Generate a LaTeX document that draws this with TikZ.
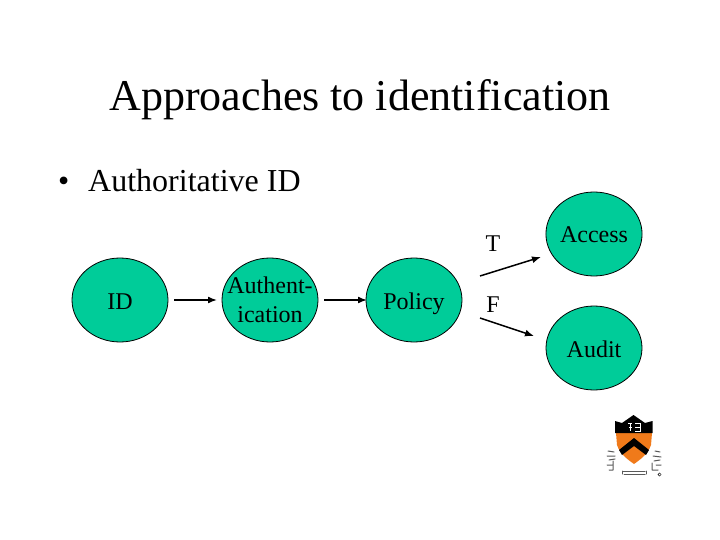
\documentclass[tikz,border=0pt]{standalone}
\usepackage{fontspec}
\setmainfont{Liberation Serif}
\usetikzlibrary{arrows.meta,shapes.geometric}
\definecolor{nodegreen}{HTML}{00CC99}
\definecolor{crestorange}{HTML}{F07A1A}
\tikzset{
	state/.style={ellipse,draw=black,fill=nodegreen,line width=0.8pt,minimum width=96pt,minimum height=84pt,inner sep=0pt,font=\fontsize{24}{29}\selectfont,align=center,text height=23pt,text depth=5pt},
	flow/.style={-{Latex[length=9pt,width=7pt]},line width=1.5pt},
	branch/.style={font=\fontsize{24}{29}\selectfont,inner sep=0pt},
	scroll/.style={line width=1pt,black!65,line cap=round}
}
\begin{document}
\begin{tikzpicture}[x=1pt,y=-1pt]
	\useasboundingbox (0,0) rectangle (720,540);
	\node[font=\fontsize{44}{53}\selectfont,inner sep=0pt] (title) at (360,100) {Approaches to identification};
	\node[font=\fontsize{32}{38}\selectfont,inner sep=0pt,anchor=base west] (bullet) at (58,192) {•};
	\node[font=\fontsize{32}{38}\selectfont,inner sep=0pt,anchor=base west] (point) at (88,192) {Authoritative ID};
	% the chain of states
	\node[state] (id) at (120,300) {ID};
	\node[state,inner xsep=-20pt,text height={},text depth=-5pt] (auth) at (270,300) {Authent-\\ication};
	\node[state] (policy) at (414,300) {Policy};
	\node[state] (access) at (594,234) {Access};
	\node[state] (audit) at (594,348) {Audit};
	\node[branch] (t) at (493,244) {T};
	\node[branch] (f) at (493,305) {F};
	\coordinate (idout) at (174,300);
	\coordinate (authin) at (217,300);
	\coordinate (authout) at (324,300);
	\coordinate (policyin) at (367,300);
	\coordinate (tfrom) at (480,276);
	\coordinate (tto) at (541,257);
	\coordinate (ffrom) at (480,318);
	\coordinate (fto) at (534,336);
	\draw[flow] (idout) -- (authin);
	\draw[flow] (authout) -- (policyin);
	\draw[flow] (tfrom) -- (tto);
	\draw[flow] (ffrom) -- (fto);
	% crest
	\fill[crestorange] (616,433) -- (652,433) -- (651,445) .. controls (648,454) and (641,459) .. (634,464) .. controls (627,459) and (620,454) .. (617,445) -- cycle;
	\fill[black] (615,421) -- (622,423) -- (633.5,415) -- (645,423) -- (652.5,421) -- (652.5,433) -- (615,433) -- cycle;
	\fill[black] (634,438) -- (649,450) -- (646,455) -- (634,446) -- (622,455) -- (619,450) -- cycle;
	\draw[white,line width=1pt] (628,423) -- (632,423) (629,427) -- (632,427) (630,423) -- (630,431) (635,423) -- (640,423) -- (640,431) -- (635,431) (635,427) -- (640,427);
	\draw[scroll] (608,451) -- (614,452) (607,456) -- (615,456) (609,460) -- (615,459) (607,465) -- (612,465) (613,461) -- (613,470) (609,470) -- (613,470);
	\draw[scroll] (655,451) -- (660,452) (653,456) -- (661,457) (654,461) -- (660,460) (656,465) -- (661,465) (652,463) -- (652,470) (652,470) -- (658,470);
	\draw[scroll] (623,471) -- (645,471) (624,474) -- (645,474) (622,471) -- (622,474) (646,471) -- (646,474);
	\draw[black,line width=0.5pt] (659.5,474.5) circle (1.6pt);
\end{tikzpicture}
\end{document}
